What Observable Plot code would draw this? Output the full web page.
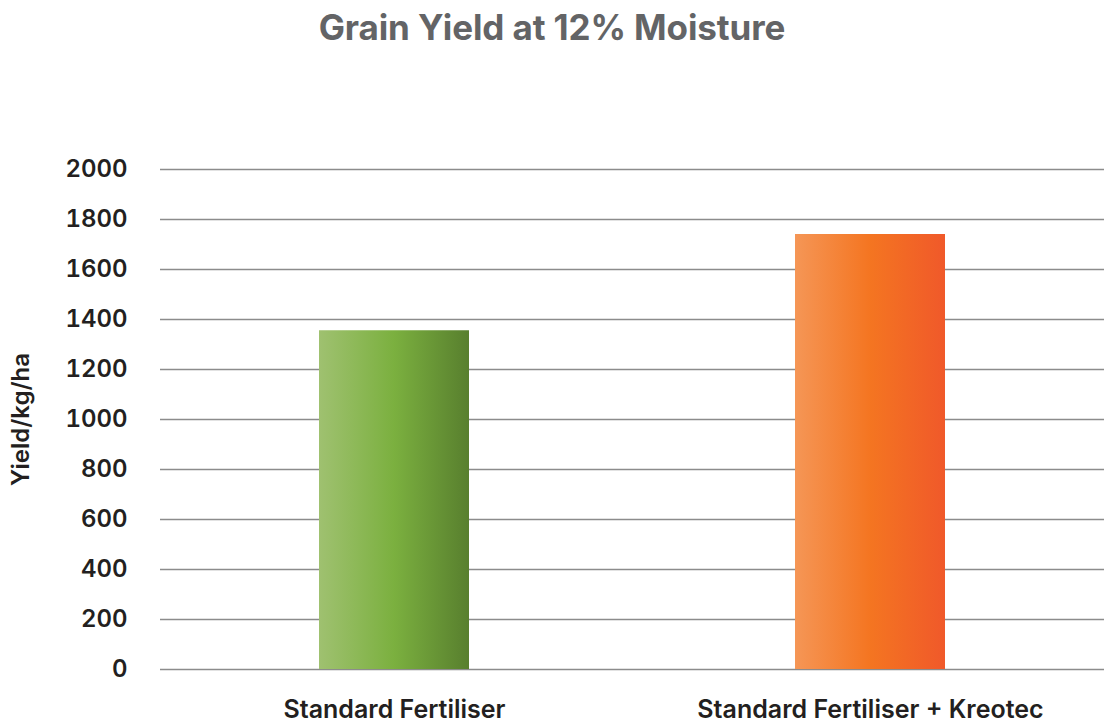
<!DOCTYPE html>
<html>
<head>
<meta charset="utf-8">
<script src="https://cdn.jsdelivr.net/npm/d3@7"></script>
<script src="https://cdn.jsdelivr.net/npm/@observablehq/plot@0.6"></script>
<style>
  html, body { margin: 0; padding: 0; background: #fff; }
  #title { height: 52px; line-height: 54px; text-align: center; font-family: Inter, "Open Sans", sans-serif; font-weight: 700; font-size: 35px; color: #636466; letter-spacing: -0.1px; }
  svg { display: block; }
</style>
</head>
<body>
<div id="title">Grain Yield at 12% Moisture</div>
<div id="chart"></div>
<script>
const categories = ["Standard Fertiliser", "Standard Fertiliser + Kreotec"];
const yields = [1355, 1740];
const gradients = ["url(#gGreen)", "url(#gOrange)"];
const yTicks = [0, 200, 400, 600, 800, 1000, 1200, 1400, 1600, 1800, 2000];

const data = categories.map((c, i) => ({category: c, value: yields[i]}));

const chart = Plot.plot({
  width: 1104,
  height: 673,
  marginTop: 117,
  marginBottom: 56,
  marginLeft: 160,
  marginRight: 0,
  style: {fontFamily: "Inter, 'Open Sans', sans-serif", fontSize: "24px", color: "#231f20", background: "#fff"},
  x: {domain: categories, paddingInner: 0.685, paddingOuter: 0.334, label: null},
  y: {domain: [0, 2000]},
  marks: [
    Plot.gridY(yTicks, {stroke: "#8c8c8c", strokeOpacity: 1, strokeWidth: 1.5}),
    Plot.barY(data.filter((d, i) => i === 0), {x: "category", y: "value", fill: gradients[0]}),
    Plot.barY(data.filter((d, i) => i === 1), {x: "category", y: "value", fill: gradients[1]}),
    Plot.axisY({ticks: yTicks, tickSize: 0, tickPadding: 33, tickFormat: d => String(d), fontSize: 24, fontWeight: 600, label: null}),
    Plot.axisY({ticks: [], tickSize: 0, label: "Yield/kg/ha", labelAnchor: "center", labelArrow: "none", labelOffset: 149, fontSize: 24, fontWeight: 600}),
    Plot.axisX({tickSize: 0, tickPadding: 31, fontSize: 25, fontWeight: 600, label: null})
  ]
});

const ns = "http://www.w3.org/2000/svg";
const defs = document.createElementNS(ns, "defs");
function grad(id, stops) {
  const g = document.createElementNS(ns, "linearGradient");
  g.setAttribute("id", id);
  g.setAttribute("x1", "0"); g.setAttribute("x2", "1"); g.setAttribute("y1", "0"); g.setAttribute("y2", "0");
  stops.forEach(([o, c]) => {
    const s = document.createElementNS(ns, "stop");
    s.setAttribute("offset", o); s.setAttribute("stop-color", c);
    g.appendChild(s);
  });
  defs.appendChild(g);
}
grad("gGreen", [[0, "#9fc170"], [0.5, "#7bb03f"], [1, "#587f2e"]]);
grad("gOrange", [[0, "#f59656"], [0.5, "#f47521"], [1, "#f0592a"]]);
chart.insertBefore(defs, chart.firstChild);
document.getElementById("chart").appendChild(chart);
</script>
</body>
</html>
